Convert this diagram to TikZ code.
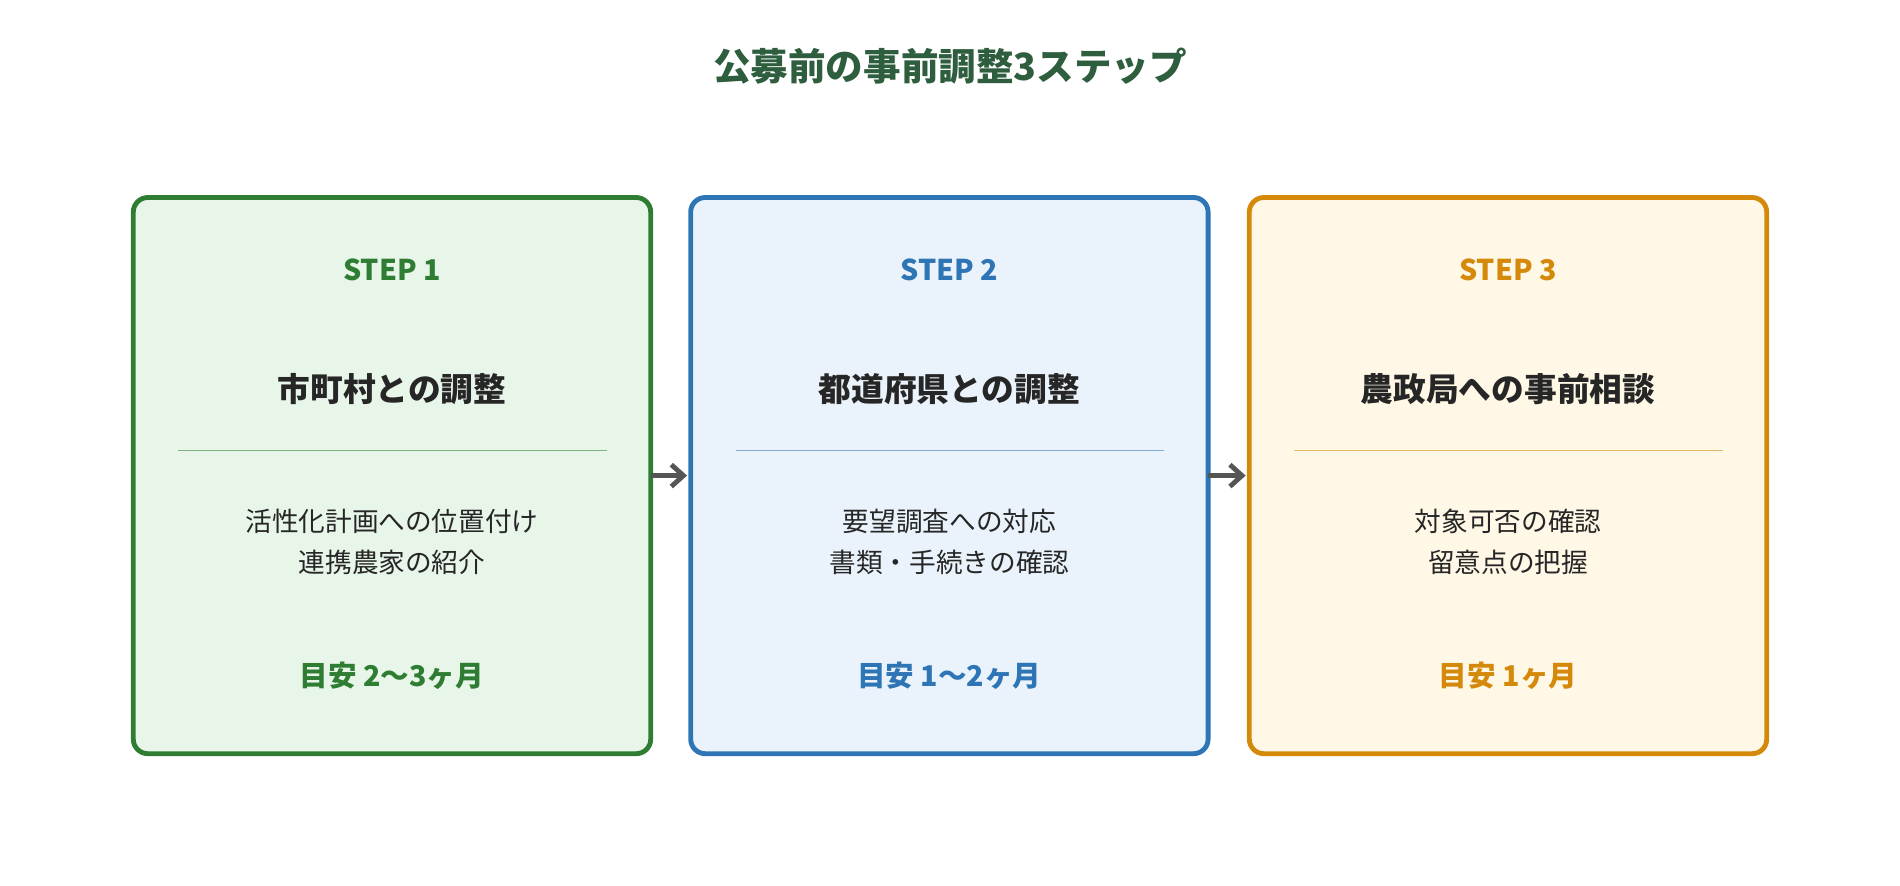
\documentclass[tikz,border=0pt]{standalone}
\usepackage{fontspec}
\setmainfont{Noto Sans CJK JP}
\usetikzlibrary{arrows.meta}
\definecolor{stepgreen}{HTML}{2E7D32}
\definecolor{fillgreen}{HTML}{E8F5E9}
\definecolor{stepblue}{HTML}{2E75B6}
\definecolor{fillblue}{HTML}{EAF3FB}
\definecolor{steporange}{HTML}{D4890A}
\definecolor{fillorange}{HTML}{FFF8E6}
\definecolor{titlegreen}{HTML}{2E5E3E}
\definecolor{arrowgray}{HTML}{555555}
\begin{document}
\begin{tikzpicture}[x=0.5pt,y=-0.5pt]
\tikzset{box/.style={draw, line width=2pt, rounded corners=6pt}}
\tikzset{steplabel/.style={font=\fontsize{11.8}{14}\selectfont\bfseries}}
\tikzset{heading/.style={font=\fontsize{13.5}{16}\selectfont\bfseries, text=black!85}}
\tikzset{body/.style={font=\fontsize{11}{17}\selectfont, text=black!85, align=center}}
\tikzset{flow/.style={draw=arrowgray, line width=2pt, -{Straight Barb[length=5pt,width=9pt,line width=2pt]}}}
\useasboundingbox (0,0) rectangle (1568,731);
\node[font=\fontsize{15.5}{18}\selectfont\bfseries, text=titlegreen] (title) at (784,55) {公募前の事前調整3ステップ};
\foreach \i/\x/\c/\h/\ba/\bb/\t in {
  1/110/green/市町村との調整/活性化計画への位置付け/連携農家の紹介/目安 2〜3ヶ月,
  2/570/blue/都道府県との調整/要望調査への対応/書類・手続きの確認/目安 1〜2ヶ月,
  3/1031/orange/農政局への事前相談/対象可否の確認/留意点の把握/目安 1ヶ月}{
  \path[box, draw=step\c, fill=fill\c] (\x,163) rectangle ++(427,459);
  \node[inner sep=0pt] (box\i) at (\x+213.5,392.5) {};
  \coordinate (box\i w) at (\x-3,392.5);
  \coordinate (box\i e) at (\x+427,392.5);
  \node[steplabel, text=step\c] (step\i) at (\x+213.5,223) {STEP \i};
  \node[heading] (head\i) at (\x+213.5,321) {\h};
  \draw[step\c!60, line width=0.6pt] (\x+37,372) -- (\x+391,372);
  \node[body] (desc\i) at (\x+213.5,447) {\ba\\\bb};
  \node[steplabel, text=step\c] (time\i) at (\x+213.5,558) {\t};
}
\draw[flow] (box1e) -- (box2w);
\draw[flow] (box2e) -- (box3w);
\end{tikzpicture}
\end{document}
